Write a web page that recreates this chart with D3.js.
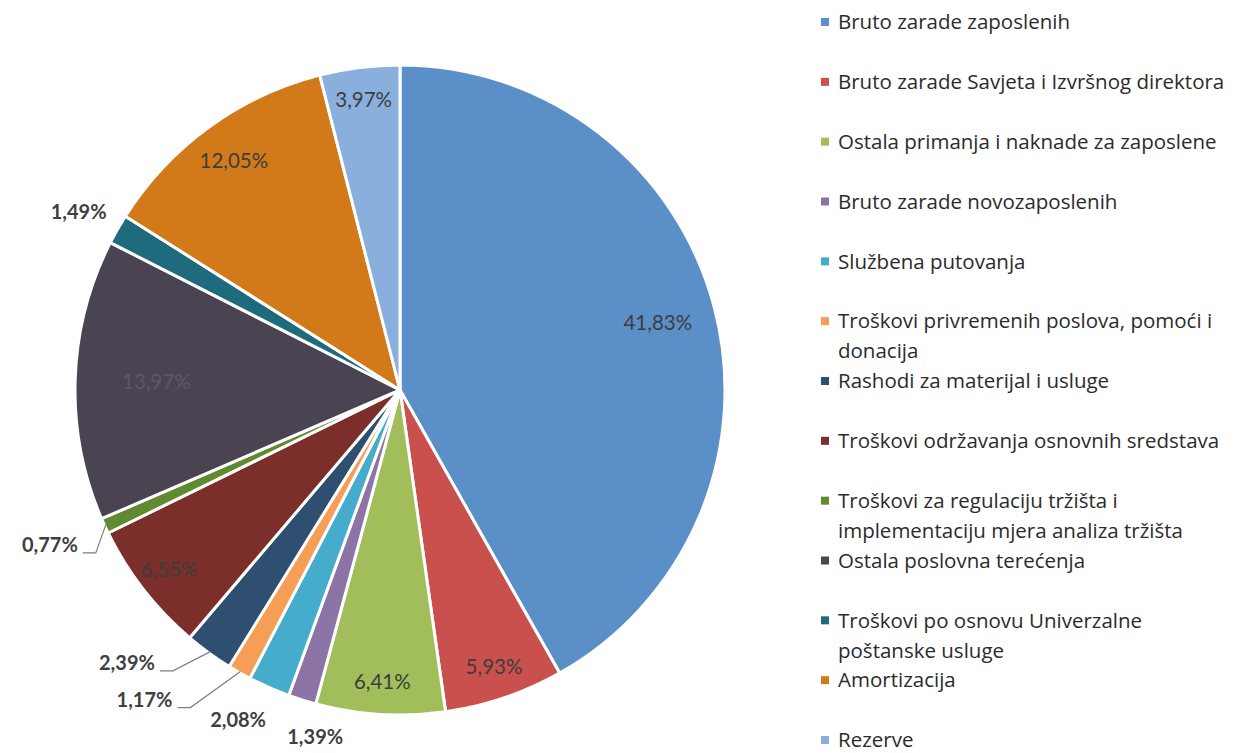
<!DOCTYPE html>
<html>
<head>
<meta charset="utf-8">
<script src="https://cdn.jsdelivr.net/npm/d3@7"></script>
<style>
  body { margin: 0; background: #fff; }
  text { font-family: Lato, "Open Sans", sans-serif; }
  .legend text { font-family: "Open Sans", Lato, sans-serif; }
</style>
</head>
<body>
<div id="container"></div>
<script>
const WIDTH = 1236,
      HEIGHT = 753;

// kategorije (redoslijed kao u legendi, krece od 12h u smjeru kazaljke)
const categories = [
    "Bruto zarade zaposlenih",
    "Bruto zarade Savjeta i Izvršnog direktora",
    "Ostala primanja i naknade za zaposlene",
    "Bruto zarade novozaposlenih",
    "Službena putovanja",
    "Troškovi privremenih poslova, pomoći i\ndonacija",
    "Rashodi za materijal i usluge",
    "Troškovi održavanja osnovnih sredstava",
    "Troškovi za regulaciju tržišta i\nimplementaciju mjera analiza tržišta",
    "Ostala poslovna terećenja",
    "Troškovi po osnovu Univerzalne\npoštanske usluge",
    "Amortizacija",
    "Rezerve"
];

const values = [41.83, 5.93, 6.41, 1.39, 2.08, 1.17, 2.39, 6.55, 0.77, 13.97, 1.49, 12.05, 3.97];

const colors = [
    "#5B8FC8", "#C9504D", "#A2BE5B", "#8D74A7", "#46ACCB", "#F79E56",
    "#2E4F6F", "#7B2E2A", "#5F8A2F", "#4A4452", "#1E6B7D", "#D27A1A", "#89AFDC"
];

const center = { x: 400, y: 390 };
const R = 325;

// rucno podesavanje etiketa (kao u Excelu)
const outside = {
    3:  { dx: 13,  dy: 37, anchor: "middle" },
    4:  { dx: -31, dy: 33, anchor: "middle" },
    5:  { dx: -67, dy: 27, anchor: "end", leader: true },
    6:  { dx: -54, dy: 10, anchor: "end", leader: true },
    8:  { dx: -27, dy: 19, anchor: "end", leader: true },
    10: { dx: -11, dy: -17, anchor: "end" }
};
const insideRadius = { 0: 0.82, 9: 0.75, 11: 0.87 };

const fmt = (v) => v.toFixed(2).replace(".", ",") + "%";

const svg = d3.select('#container')
    .append('svg')
    .attr("width", WIDTH)
    .attr("height", HEIGHT);

const color = d3.scaleOrdinal()
    .domain(categories)
    .range(colors);

const data = categories.map((c, i) => ({ i: i, name: c, value: values[i] }));

const pie = d3.pie()
    .sort(null)
    .value((d) => d.value);

const arc = d3.arc()
    .innerRadius(0)
    .outerRadius(R);

const arcs = pie(data);

const g = svg.append("g")
    .attr("transform", `translate(${center.x}, ${center.y})`);

g.selectAll("path")
    .data(arcs)
    .join("path")
    .attr("d", arc)
    .attr("fill", (d) => color(d.data.name))
    .attr("stroke", "#fff")
    .attr("stroke-width", 3)
    .attr("stroke-linejoin", "round");

const pointAt = (angle, r) => [Math.sin(angle) * r, -Math.cos(angle) * r];

// etikete unutar kruga
g.selectAll(".inLabel")
    .data(arcs.filter((d) => !(d.data.i in outside)))
    .join("text")
    .attr("class", "inLabel")
    .attr("transform", (d) => {
        const a = (d.startAngle + d.endAngle) / 2;
        const k = insideRadius[d.data.i] || 0.9;
        const p = pointAt(a, R * k);
        return `translate(${p[0]}, ${p[1]})`;
    })
    .attr("text-anchor", "middle")
    .attr("dy", "0.35em")
    .attr("font-size", 20.5)
    .attr("fill", (d) => d.data.i === 9 ? "#5d5866" : "#3d3d3d")
    .text((d) => fmt(d.data.value));

// etikete van kruga
const outArcs = arcs.filter((d) => d.data.i in outside);

outArcs.forEach((d) => {
    const o = outside[d.data.i];
    const a = (d.startAngle + d.endAngle) / 2;
    const p = pointAt(a, R);
    const tx = p[0] + o.dx,
          ty = p[1] + o.dy;
    g.append("text")
        .attr("class", "outLabel")
        .attr("x", tx)
        .attr("y", ty)
        .attr("dy", "0.35em")
        .attr("text-anchor", o.anchor)
        .attr("font-size", 20)
        .attr("font-weight", "bold")
        .attr("fill", "#3f3f3f")
        .text(fmt(d.data.value));
    if (o.leader) {
        const sx = tx + 5, sy = ty + 8;
        g.append("path")
            .attr("d", d3.line()([[sx, sy], [sx + 13, sy], [p[0] + 1, p[1] - 1]]))
            .attr("fill", "none")
            .attr("stroke", "#7f7f7f")
            .attr("stroke-width", 1.2);
    }
});

// legenda
const yLegend = d3.scaleLinear()
    .domain([0, categories.length - 1])
    .range([22, 740]);

const legend = svg.append("g")
    .attr("class", "legend");

const items = legend.selectAll("g")
    .data(data)
    .join("g")
    .attr("transform", (d) => `translate(821, ${yLegend(d.i)})`);

items.append("rect")
    .attr("x", 0)
    .attr("y", -4)
    .attr("width", 8)
    .attr("height", 8)
    .attr("fill", (d) => color(d.name));

items.append("text")
    .attr("x", 17)
    .attr("font-size", 20.5)
    .attr("fill", "#2b2b2b")
    .selectAll("tspan")
    .data((d) => d.name.split("\n"))
    .join("tspan")
    .attr("x", 17)
    .attr("y", (d, i) => i * 30)
    .attr("dy", "0.35em")
    .text((d) => d);
</script>
</body>
</html>
